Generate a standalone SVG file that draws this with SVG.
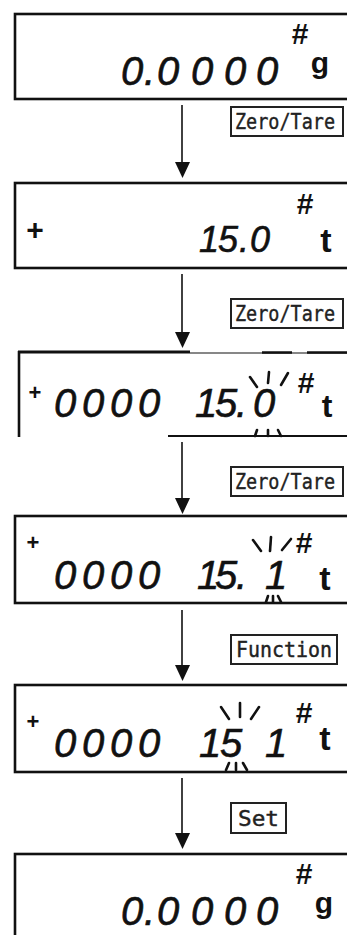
<svg xmlns="http://www.w3.org/2000/svg" width="347" height="935" viewBox="0 0 347 935">
<style>
.lcd{fill:#fff;stroke:#111;stroke-width:2.6}
.dg{font-family:"Liberation Sans",Arial,sans-serif;font-style:italic;fill:#111;stroke:#111;stroke-width:0.6}
.hs{font-family:"Liberation Sans",Arial,sans-serif;font-weight:bold;fill:#111;text-anchor:middle}
.lbl{fill:#fff;stroke:#222;stroke-width:2}
.lt{font-family:"DejaVu Sans Mono",monospace;font-size:21px;fill:#222;stroke:#222;stroke-width:0.4}
.ray{stroke:#111;stroke-width:2.6;stroke-linecap:round}
.cn{stroke:#111;stroke-width:1.6}
</style>
<rect width="347" height="935" fill="#fff"/>
<g id="connectors">
<line class="cn" x1="182" y1="105" x2="182" y2="164"/><polygon points="175,162 190,162 182.5,178" fill="#111"/>
<line class="cn" x1="182" y1="274" x2="182" y2="334"/><polygon points="175,332 190,332 182.5,348" fill="#111"/>
<line class="cn" x1="182" y1="442" x2="182" y2="500"/><polygon points="175,498 190,498 182.5,514" fill="#111"/>
<line class="cn" x1="182" y1="610" x2="182" y2="667"/><polygon points="175,665 190,665 182.5,681" fill="#111"/>
<line class="cn" x1="182" y1="778" x2="182" y2="835"/><polygon points="175,833 190,833 182.5,849" fill="#111"/>
</g>
<g id="label1"><rect class="lbl" x="231" y="107" width="112" height="29"/><text class="lt" x="235" y="129" textLength="100" lengthAdjust="spacingAndGlyphs">Zero/Tare</text></g>
<g id="label2"><rect class="lbl" x="231" y="299" width="112" height="29"/><text class="lt" x="235" y="321" textLength="100" lengthAdjust="spacingAndGlyphs">Zero/Tare</text></g>
<g id="label3"><rect class="lbl" x="231" y="467" width="112" height="29"/><text class="lt" x="235" y="489" textLength="100" lengthAdjust="spacingAndGlyphs">Zero/Tare</text></g>
<g id="label4"><rect class="lbl" x="231" y="635" width="106" height="29"/><text class="lt" x="236" y="657" textLength="96" lengthAdjust="spacingAndGlyphs">Function</text></g>
<g id="label5"><rect class="lbl" x="231" y="803" width="55" height="30"/><text class="lt" x="238" y="826" textLength="41" lengthAdjust="spacingAndGlyphs">Set</text></g>

<g id="display1">
<rect class="lcd" x="15" y="14" width="345" height="85"/>
<text class="dg" font-size="40" x="121 144 157 191 224 256" y="85">0.0000</text>
<text class="hs" font-size="30" x="300" y="44">#</text>
<text class="hs" font-size="30" x="320" y="73">g</text>
</g>
<g id="display2">
<rect class="lcd" x="15" y="183" width="345" height="85"/>
<text class="hs" font-size="30" x="35" y="240">+</text>
<text class="dg" font-size="36" x="199 218 239 250" y="252">15.0</text>
<text class="hs" font-size="30" x="305" y="214">#</text>
<text class="hs" font-size="34" x="326" y="252">t</text>
</g>
<g id="display3">
<line stroke="#111" stroke-width="3" x1="18" y1="352" x2="190" y2="352"/>
<line stroke="#111" stroke-width="1.2" x1="190" y1="353" x2="347" y2="353"/>
<line stroke="#111" stroke-width="2.5" x1="262" y1="352.5" x2="292" y2="352.5"/>
<line stroke="#111" stroke-width="2.5" x1="307" y1="352.5" x2="347" y2="352.5"/>
<line stroke="#111" stroke-width="2.6" x1="19" y1="351" x2="19" y2="437"/>
<line stroke="#111" stroke-width="2.2" x1="168" y1="436" x2="347" y2="436"/>
<text class="hs" font-size="22" x="35" y="400">+</text>
<text class="dg" font-size="40" x="54 82 110 138 195 215 236 253" y="417">000015.0</text>
<text class="hs" font-size="30" x="306" y="393">#</text>
<text class="hs" font-size="32" x="327" y="417">t</text>
<line class="ray" x1="250" y1="377" x2="257" y2="387"/>
<line class="ray" x1="269" y1="372" x2="268" y2="383"/>
<line class="ray" x1="288" y1="373" x2="281" y2="385"/>
<line class="ray" x1="257" y1="430" x2="255" y2="436"/>
<line class="ray" x1="268" y1="430" x2="268" y2="436"/>
<line class="ray" x1="278" y1="430" x2="281" y2="436"/>
</g>
<g id="display4">
<rect class="lcd" x="15" y="516" width="345" height="87"/>
<text class="hs" font-size="22" x="33" y="550">+</text>
<text class="dg" font-size="40" x="54 82 110 138 197 215 236 265" y="589">000015.1</text>
<text class="hs" font-size="30" x="304" y="553">#</text>
<text class="hs" font-size="34" x="325" y="590">t</text>
<line class="ray" x1="253" y1="540" x2="261" y2="551"/>
<line class="ray" x1="271" y1="537" x2="270" y2="551"/>
<line class="ray" x1="291" y1="539" x2="282" y2="550"/>
<line class="ray" x1="266" y1="602" x2="268" y2="596"/>
<line class="ray" x1="273" y1="596" x2="273" y2="602"/>
<line class="ray" x1="278" y1="596" x2="281" y2="602"/>
</g>
<g id="display5">
<rect class="lcd" x="15" y="685" width="345" height="87"/>
<text class="hs" font-size="22" x="33" y="729">+</text>
<text class="dg" font-size="40" x="54 82 110 138 199 220 265" y="757">0000151</text>
<text class="hs" font-size="30" x="304" y="723">#</text>
<text class="hs" font-size="34" x="325" y="750">t</text>
<line class="ray" x1="221" y1="707" x2="229" y2="719"/>
<line class="ray" x1="240" y1="703" x2="240" y2="717"/>
<line class="ray" x1="259" y1="707" x2="251" y2="719"/>
<line class="ray" x1="226" y1="770" x2="229" y2="763"/>
<line class="ray" x1="236" y1="763" x2="236" y2="770"/>
<line class="ray" x1="243" y1="763" x2="247" y2="770"/>
</g>
<g id="display6">
<rect class="lcd" x="15" y="854" width="345" height="90"/>
<text class="dg" font-size="40" x="121 144 157 191 224 256" y="925">0.0000</text>
<text class="hs" font-size="30" x="304" y="884">#</text>
<text class="hs" font-size="30" x="324" y="913">g</text>
</g>
</svg>
